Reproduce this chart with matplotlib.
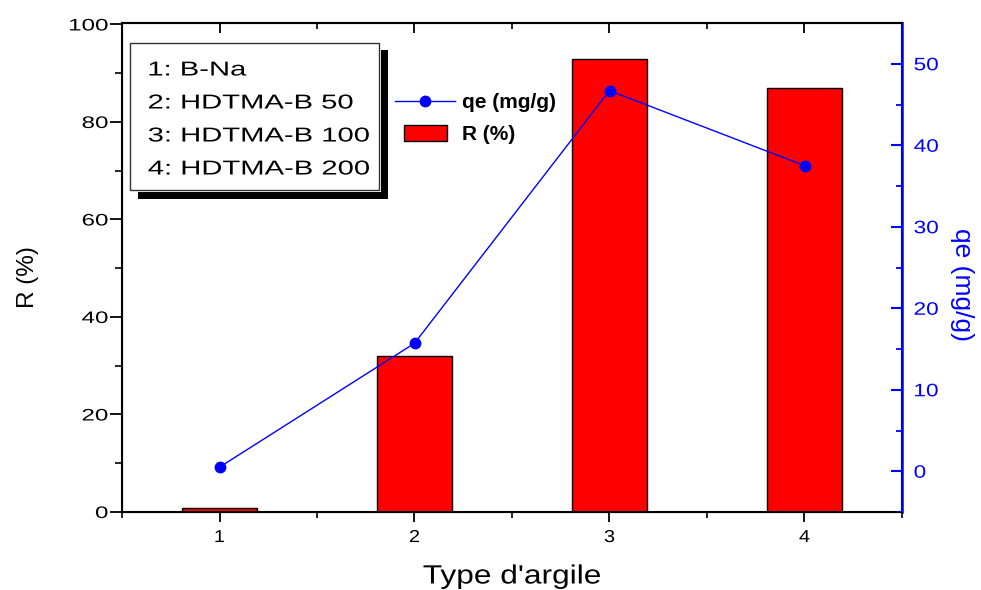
#!/usr/bin/env python3
#- Bar chart of R (%) with qe (mg/g) on a second axis, per clay type

import matplotlib
matplotlib.use('Agg')
import matplotlib.pyplot as plt
from matplotlib.patches import Rectangle, Patch
from matplotlib.lines import Line2D
from matplotlib.ticker import MultipleLocator
from matplotlib.patheffects import AbstractPathEffect
from matplotlib.transforms import Affine2D
from matplotlib.legend_handler import HandlerPatch

plt.rcParams['font.family'] = ['Liberation Sans', 'DejaVu Sans']

#- data
types = [1, 2, 3, 4]
r_pct = [0.9, 32, 93, 87]
qe = [0.5, 15.7, 46.7, 37.5]
names = ['1: B-Na', '2: HDTMA-B 50', '3: HDTMA-B 100', '4: HDTMA-B 200']


#- the reference text looks horizontally stretched: widen glyphs on screen
class Stretch(AbstractPathEffect):
    def __init__(self, sx, anchor='left'):
        super().__init__()
        self.sx = sx
        self.anchor = anchor

    def draw_path(self, renderer, gc, tpath, affine, rgbFace=None):
        ext = tpath.get_extents(affine)
        cx = {'left': ext.x0, 'right': ext.x1,
              'center': 0.5 * (ext.x0 + ext.x1)}[self.anchor]
        t = affine + Affine2D().translate(-cx, 0).scale(self.sx, 1).translate(cx, 0)
        renderer.draw_path(gc, tpath, t, rgbFace)


#- axes box in pixels of the reference
L, R, T, B = 122, 902, 23, 512
W, H = R - L, B - T


def fx(px):
    return (px - L) / W


def fy(py):
    return (B - py) / H


fig = plt.figure(figsize=(9.81, 5.90), dpi=100)
ax = fig.add_axes([L/981, 1 - B/590, W/981, H/590])

ax.bar(types, r_pct, width=0.38, color='red', edgecolor='black', linewidth=1)
ax.set_xlim(0.5, 4.5)
ax.set_ylim(0, 100.3)
ax.set_xticks(types)
ax.xaxis.set_minor_locator(MultipleLocator(0.5))
ax.yaxis.set_major_locator(MultipleLocator(20))
ax.yaxis.set_minor_locator(MultipleLocator(10))
ax.tick_params(axis='y', which='major', direction='out', length=8.5, width=1.3,
               labelsize=12, pad=1.5)
ax.tick_params(axis='y', which='minor', direction='out', length=5, width=1.2)
ax.tick_params(axis='x', which='major', direction='out', length=7, width=1.3,
               labelsize=12.5, pad=6, top=True)
ax.tick_params(axis='x', which='minor', direction='out', length=4, width=1.2,
               top=True)
for t in ax.xaxis.get_ticklines(minor=False)[1::2] + ax.xaxis.get_ticklines(minor=True)[1::2]:
    t.set_marker(3)  # inward ticks on top
for sp in ax.spines.values():
    sp.set_linewidth(1.5)
xl = ax.set_xlabel("Type d'argile", fontsize=19, labelpad=14)
xl.set_path_effects([Stretch(1.2, 'center')])
ax.set_ylabel('R (%)', fontsize=17.5, labelpad=30)
ax.yaxis.label.set_y(fy(277))

#- second axis for qe
ax2 = ax.twinx()
ax2.plot(types, qe, color='blue', linewidth=1, marker='o', markersize=7.5)
ax2.set_ylim(-5, 55)
ax2.yaxis.set_major_locator(MultipleLocator(10))
ax2.yaxis.set_minor_locator(MultipleLocator(5))
ax2.tick_params(axis='y', which='major', direction='in', length=8, width=1.5,
                colors='blue', labelsize=13, pad=8.5)
ax2.tick_params(axis='y', which='minor', direction='in', length=4, width=1.3,
                colors='blue')
ax2.spines['right'].set_color('blue')
ax2.spines['right'].set_linewidth(1.8)
ax2.spines['top'].set_linewidth(1.5)
ax2.set_ylabel('qe (mg/g)', color='blue', fontsize=19, rotation=270, labelpad=29)
ax2.yaxis.label.set_y(fy(285))

#- names box with black shadow
x0, x1 = fx(130), fx(379)
y0, y1 = fy(190), fy(43)
ax2.add_patch(Rectangle((fx(138), fy(199)), fx(388) - fx(138), fy(50) - fy(199),
                        transform=ax2.transAxes, facecolor='black',
                        edgecolor='none', zorder=5, clip_on=False))
ax2.add_patch(Rectangle((fx(128), fy(192)), fx(381) - fx(128), fy(41) - fy(192),
                        transform=ax2.transAxes, facecolor='white',
                        edgecolor='none', zorder=6, clip_on=False))
ax2.add_patch(Rectangle((x0, y0), x1 - x0, y1 - y0, transform=ax2.transAxes,
                        facecolor='white', edgecolor='#333333', linewidth=1,
                        zorder=6, clip_on=False))
for i, n in enumerate(names):
    ax2.text(fx(148), fy(70 + 33 * i), n, fontsize=14.5,
             transform=ax2.transAxes, va='center', ha='left', zorder=7,
             path_effects=[Stretch(1.45, 'left')])


#- series legend, patch handle narrower than the line handle
def small_patch(legend, orig_handle, xdescent, ydescent, width, height, fontsize):
    w = 31.0
    return Rectangle((-xdescent + (width - w) / 2, -ydescent - 1), w, 11.5)


handles = [Line2D([], [], color='blue', linewidth=1, marker='o', markersize=7.5),
           Patch(facecolor='red', edgecolor='black')]
leg = ax2.legend(handles, ['qe (mg/g)', 'R (%)'], loc='upper left',
                 bbox_to_anchor=(fx(395), fy(93)),
                 frameon=False, handlelength=2.9, handleheight=0.7,
                 handletextpad=0.3, borderaxespad=0, borderpad=0,
                 labelspacing=0.62, prop={'weight': 'bold', 'size': 15},
                 handler_map={Patch: HandlerPatch(patch_func=small_patch)})

#- stretch the tick labels like the reference
fig.canvas.draw()
for lab in ax.get_yticklabels():
    lab.set_path_effects([Stretch(1.45, 'right')])
for lab in ax.get_xticklabels():
    lab.set_path_effects([Stretch(1.15, 'center')])
for lab in ax2.get_yticklabels():
    lab.set_path_effects([Stretch(1.25, 'left')])

fig.savefig('out.png', dpi=100)
